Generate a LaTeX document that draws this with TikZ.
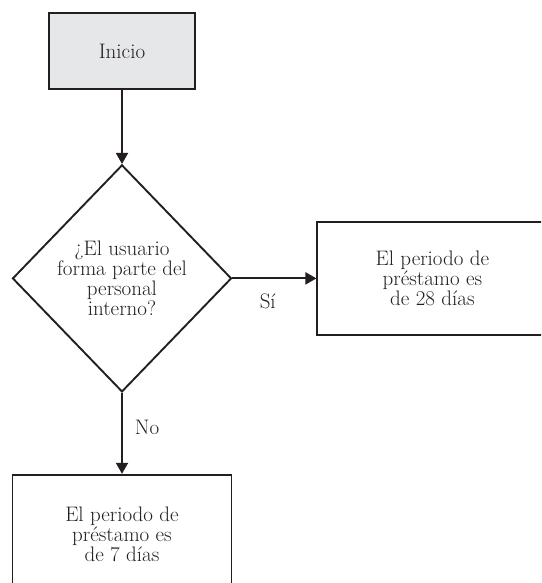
\documentclass[tikz,border=0pt]{standalone}
\usepackage{fontspec}
\usepackage{tikz}
\usetikzlibrary{shapes.geometric, positioning, arrows.meta}
\definecolor{ink}{HTML}{231F20}
\definecolor{startgray}{HTML}{E6E7E8}
\tikzset{
->, % makes the connectors directed
>={Triangle[length=11pt, width=12pt]}, % solid triangular heads
every node/.style={font=\fontsize{21}{18.5}\selectfont}, % same text size everywhere
process/.style={draw, rectangle, align=center}, % the boxes
question/.style={draw, diamond, aspect=1, inner sep=0pt, align=center}, % the test
}

\begin{document}
\begin{tikzpicture}[color=ink, line width=1.9pt]
\useasboundingbox (0,0) rectangle (541pt,-583pt);
\clip (0,0) rectangle (541pt,-583pt);
\node[process, fill=startgray, minimum width=146pt, minimum height=76pt] (inicio) at (122pt,-51pt) {Inicio};
\node[question, minimum width=219pt, minimum height=227pt, below=74pt of inicio] (usuario) {¿El usuario\\forma parte del\\personal\\interno?};
\node[process, minimum width=230pt, minimum height=113pt, right=84pt of usuario] (dias28) {El periodo de\\préstamo es\\de 28 días};
\node[process, minimum width=219pt, minimum height=119pt, below=81pt of usuario] (dias7) {El periodo de\\préstamo es\\de 7 días};
\draw (inicio) edge (usuario)
(usuario) edge node[below=14pt, pos=0.42, inner sep=0pt]{Sí} (dias28)
(usuario) edge node[right=12pt, pos=0.43, inner sep=0pt]{No} (dias7);
\end{tikzpicture}
\end{document}
